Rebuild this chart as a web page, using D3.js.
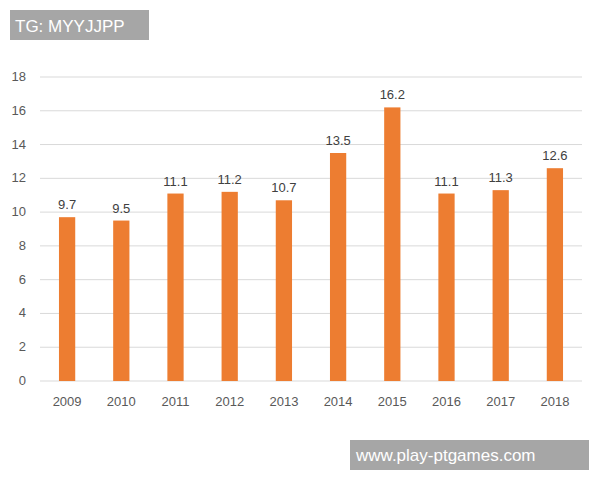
<!DOCTYPE html>
<html><head><meta charset="utf-8">
<script src="https://cdn.jsdelivr.net/npm/d3@7"></script>
<style>body{margin:0;background:#fff}text{font-family:"Liberation Sans","DejaVu Sans",sans-serif}</style>
</head><body><svg id="c" width="600" height="480"></svg>
<script>
const years = ["2009","2010","2011","2012","2013","2014","2015","2016","2017","2018"];
const values = [9.7, 9.5, 11.1, 11.2, 10.7, 13.5, 16.2, 11.1, 11.3, 12.6];
const yTicks = [0, 2, 4, 6, 8, 10, 12, 14, 16, 18];

let svg = d3.select("#c");
let x = d3.scaleBand().domain(years).range([40, 582]).paddingInner(0.7).paddingOuter(0.35);
let y = d3.scaleLinear().domain([0, 18]).range([381, 77]);

// grid
svg.selectAll("line.grid").data(yTicks).join("line")
  .attr("x1", 40).attr("x2", 582)
  .attr("y1", d => y(d)).attr("y2", d => y(d))
  .attr("stroke", "#d9d9d9").attr("stroke-width", 1);

svg.selectAll("text.yt").data(yTicks).join("text")
  .attr("x", 26).attr("y", d => y(d) + 4).attr("text-anchor", "end")
  .attr("font-size", 13).attr("fill", "#595959").text(d => d);

svg.selectAll("rect.bar").data(values).join("rect")
  .attr("x", (d, i) => x(years[i])).attr("width", x.bandwidth())
  .attr("y", d => y(d)).attr("height", d => y(0) - y(d))
  .attr("fill", "#ed7d31");

svg.selectAll("text.lbl").data(values).join("text")
  .attr("x", (d, i) => x(years[i]) + x.bandwidth() / 2).attr("y", d => y(d) - 8)
  .attr("text-anchor", "middle").attr("font-size", 13).attr("fill", "#404040")
  .text(d => d.toFixed(1));

svg.selectAll("text.xt").data(years).join("text")
  .attr("x", d => x(d) + x.bandwidth() / 2).attr("y", 406)
  .attr("text-anchor", "middle").attr("font-size", 13).attr("fill", "#595959").text(d => d);

// overlay labels
svg.append("rect").attr("x", 10).attr("y", 10).attr("width", 139).attr("height", 30).attr("fill", "#a6a6a6");
svg.append("text").attr("x", 15).attr("y", 32).attr("font-size", 17).attr("fill", "#fff").text("TG: MYYJJPP");
svg.append("rect").attr("x", 350).attr("y", 440).attr("width", 239).attr("height", 30).attr("fill", "#a6a6a6");
svg.append("text").attr("x", 356).attr("y", 461).attr("font-size", 17).attr("fill", "#fff").text("www.play-ptgames.com");
</script></body></html>
